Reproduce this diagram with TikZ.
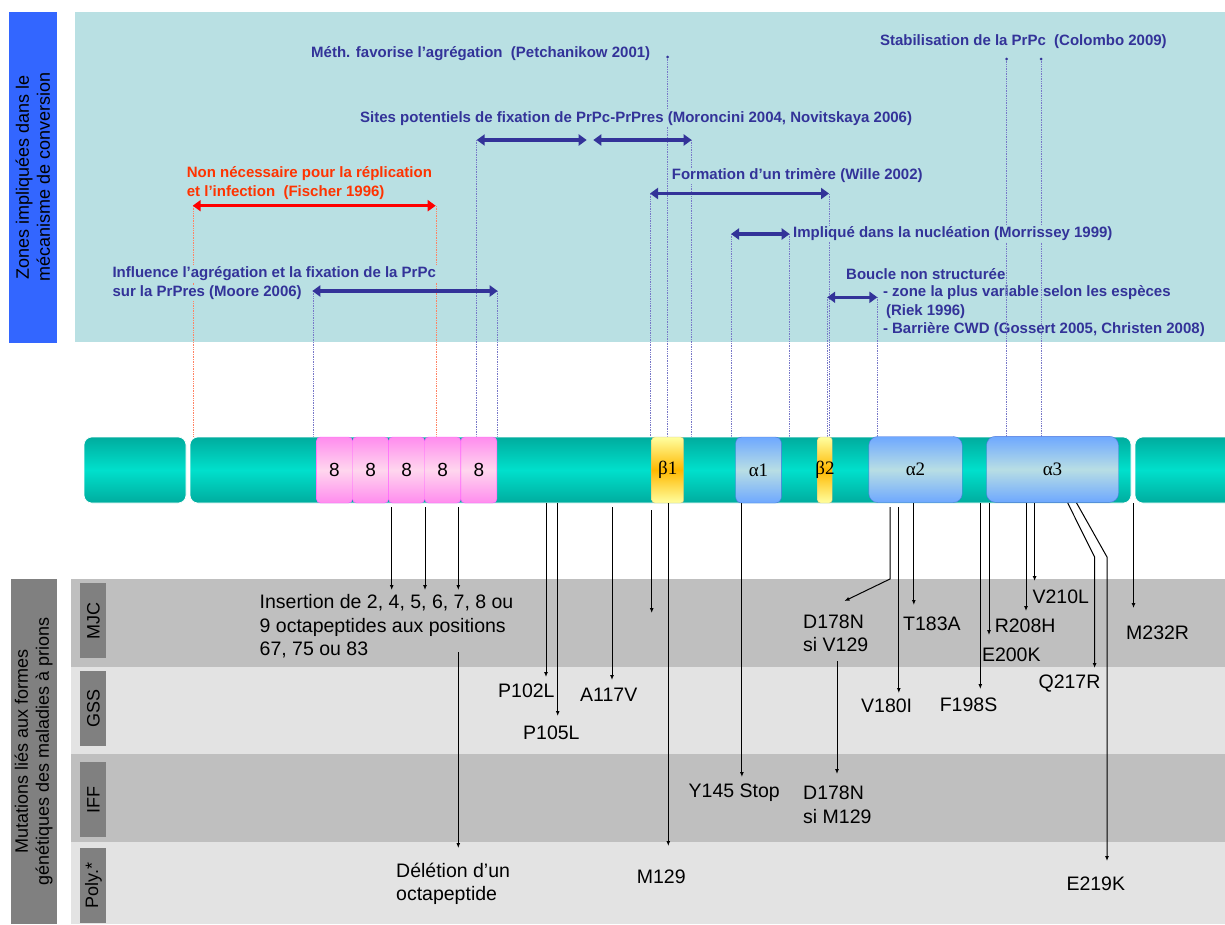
\documentclass[tikz,border=0pt]{standalone}
\usepackage{fontspec}
\setmainfont{Liberation Sans}
\newfontfamily\symfont{Liberation Serif}
\usetikzlibrary{arrows.meta}
\usetikzlibrary{positioning}
\definecolor{zoneblue}{RGB}{51,102,255}
\definecolor{zonecyan}{RGB}{185,224,227}
\definecolor{labblue}{RGB}{51,51,153}
\definecolor{labred}{RGB}{255,51,0}
\definecolor{rowdark}{RGB}{191,191,191}
\definecolor{rowlight}{RGB}{227,227,227}
\definecolor{tagGray}{RGB}{128,128,128}
\definecolor{bardark}{RGB}{0,172,158}
\definecolor{barlight}{RGB}{0,224,204}
\definecolor{octedge}{RGB}{255,90,255}
\definecolor{octdark}{RGB}{255,140,238}
\definecolor{octlight}{RGB}{255,214,238}
\definecolor{betalight}{RGB}{255,255,160}
\definecolor{betadark}{RGB}{255,184,0}
\definecolor{betaedge}{RGB}{200,190,130}
\definecolor{alphadark}{RGB}{110,168,255}
\definecolor{alphalight}{RGB}{184,222,228}
\definecolor{alphaedge}{RGB}{80,120,220}
\definecolor{dotblue}{RGB}{120,120,200}
\definecolor{dotred}{RGB}{255,130,100}
\newcommand\lblfont{\fontsize{15}{18.3}\selectfont\bfseries}
\newcommand\mutfont{\fontsize{19.5}{23.3}\selectfont}
\newcommand\tagfont{\fontsize{18}{20}\selectfont}
\newcommand\sidefont{\fontsize{18}{21}\selectfont}
\newcommand\barfont{\fontsize{19}{21}\selectfont}
\tikzset{
  sidebox/.style = {rotate=90, align=center, font=\sidefont, inner sep=0pt,
                    minimum width=331pt, minimum height=47.7pt},
  tag/.style = {fill=tagGray, rotate=90, font=\tagfont, inner sep=0pt,
                minimum width=75pt, minimum height=26pt},
  blab/.style = {anchor=west, text=labblue, font=\lblfont, inner sep=1pt, fill=zonecyan},
  zline/.style = {densely dotted, line width=0.7pt, dotblue},
  span/.style = {draw=labblue, line width=3.5pt,
                 {Triangle[length=8pt,width=11pt]}-{Triangle[length=8pt,width=11pt]}},
  seg/.style = {rounded corners=8pt, draw=white, line width=0.6pt,
                top color=bardark, bottom color=bardark, middle color=barlight},
  octa/.style = {draw=octedge, rounded corners=4pt, inner sep=0pt, font=\barfont,
                 top color=octdark, bottom color=octdark, middle color=octlight,
                 minimum width=36.1pt, minimum height=66pt},
  beta/.style = {draw=betaedge, rounded corners=3pt, inner sep=0pt, font=\barfont,
                 top color=betalight, bottom color=betalight, middle color=betadark,
                 minimum height=66pt},
  alpha/.style = {draw=alphaedge, rounded corners=9pt, inner sep=0pt, font=\barfont,
                  top color=alphadark, bottom color=alphadark, middle color=alphalight,
                  minimum height=66pt},
  mlab/.style = {anchor=west, font=\mutfont, inner sep=0pt, align=left},
  mut/.style = {-{Latex[length=5pt,width=4pt]}, line width=1pt}
}
\begin{document}
\begin{tikzpicture}[x=1pt,y=-1pt]
  \useasboundingbox (0,0) rectangle (1225,924);
  \clip (0,0) rectangle (1225,924);

  \fill[zonecyan] (75,11.7) rectangle (1225,342.3);
  \node[sidebox, fill=zoneblue] (zones) at (32.9,177.4) {Zones impliquées dans le\\mécanisme de conversion};
  \node[sidebox, fill=tagGray, minimum width=345pt, minimum height=46pt] (mutside) at (33.7,751.5)
    {Mutations liés aux formes\\génétiques des maladies à prions};

  \fill[rowdark] (71,579) rectangle (1225,667);
  \fill[rowlight] (71,667) rectangle (1225,754);
  \fill[rowdark] (71,754) rectangle (1225,842);
  \fill[rowlight] (71,842) rectangle (1225,924);
  \node[tag] (mjc) at (93.4,620.5) {MJC};
  \node[tag] (gss) at (93.4,708.5) {GSS};
  \node[tag] (iff) at (93.4,799.5) {IFF};
  \node[tag] (poly) at (93.4,885.5) {Poly.*};

  \node[anchor=west, text=labblue, font=\lblfont, inner sep=1pt] (boucle) at (845,274.5) {Boucle non structurée};
  \node[anchor=west, text=labblue, font=\lblfont, inner sep=1pt, align=left] (boucleB) at (881.8,311.3)
    {- zone la plus variable selon les espèces\\\hspace*{3pt}(Riek 1996)\\- Barrière CWD (Gossert 2005, Christen 2008)};

  \foreach \x in {193,436}
    \draw[zline, dotred] (\x,206) -- (\x,437);
  \foreach \x/\y in {313/291, 497/291, 476.7/140, 691/140, 667.7/57, 650/194, 829/194,
                     731/234, 789.7/234, 827.5/297, 877/297, 1006.7/59, 1041/59}
    \draw[zline] (\x,\y) -- (\x,437);

  \node[blab] (meth) at (310,53.3) {Méth. favorise l’agrégation\ \ (Petchanikow 2001)};
  \node[blab] (sites) at (359,118.3) {Sites potentiels de fixation de PrPc-PrPres (Moroncini 2004, Novitskaya 2006)};
  \node[blab, text=labred, fill=none, align=left] (nonnec) at (185.7,183.2)
    {Non nécessaire pour la réplication\\et l’infection\ \ (Fischer 1996)};
  \node[blab] (formation) at (670.7,176) {Formation d’un trimère (Wille 2002)};
  \node[blab] (impl) at (792,233.7) {Impliqué dans la nucléation (Morrissey 1999)};
  \node[blab] (stab) at (878.8,41.8) {Stabilisation de la PrPc\ \ (Colombo 2009)};
  \node[blab] (influA) at (111.3,274) {Influence l’agrégation et la fixation de la PrPc};
  \node[blab] (influB) at (111.3,292.7) {sur la PrPres (Moore 2006)};

  \draw[span] (476.7,140) -- (586.7,140);
  \draw[span] (593.3,140) -- (691.7,140);
  \draw[span] (650,193.5) -- (829,193.5);
  \draw[span] (731,234) -- (789.7,234);
  \draw[span] (827.2,297.3) -- (877.4,297.3);
  \draw[span] (312.3,291) -- (497.7,291);
  \draw[span, draw=red] (192.7,205.7) -- (435.7,205.7);
  \foreach \x/\y in {667.7/57, 1006.7/59, 1041/59}
    \fill[labblue] (\x,\y) circle (1.5pt);

  \draw[seg] (84,437) rectangle (186,503);
  \draw[seg] (190,437) rectangle (1131,503);
  \draw[seg] (1135,437) rectangle (1245,503);
  \foreach \i in {1,...,5}
    \node[octa] (oct\i) at ({316.4+36.1*(\i-0.5)},470) {8};
  \node[beta, minimum width=32pt] (b1) at (667.7,470) {\symfont β1};
  \node[alpha, minimum width=45.6pt, rounded corners=6pt] (a1) at (758.5,470) {\symfont α1};
  \draw[beta] (817.5,437) rectangle (832.2,503);
  \node[font=\barfont, inner sep=0pt] (b2) at (825,470) {\symfont β2};
  \node[alpha, minimum width=93.4pt] (a2) at (915.5,469.5) {\symfont α2};
  \node[alpha, minimum width=132pt] (a3) at (1052.5,469.3) {\symfont α3};

  \node[mlab, text depth=0pt] (insertion) at (259.5,625) {\fontsize{19.5}{24.5}\selectfont Insertion de 2, 4, 5, 6, 7, 8 ou\\9 octapeptides aux positions\\67, 75 ou 83};
  \node[mlab] (deletion) at (396,883.5) {Délétion d’un\\octapeptide};
  \node[mlab] (p102) at (498,690.7) {P102L};
  \node[mlab] (p105) at (523,733) {P105L};
  \node[mlab] (a117) at (580,695) {A117V};
  \node[mlab] (m129) at (636.7,876.7) {M129};
  \node[mlab] (y145) at (688.5,792.7) {Y145 Stop};
  \node[mlab] (d178v) at (803,633.3) {D178N\\si V129};
  \node[mlab] (d178m) at (803,804.7) {D178N\\si M129};
  \node[mlab] (t183) at (903,623.3) {T183A};
  \node[mlab] (v180) at (861,706) {V180I};
  \node[mlab] (f198) at (939.6,705) {F198S};
  \node[mlab] (e200) at (981.8,655) {E200K};
  \node[mlab] (r208) at (994.6,626) {R208H};
  \node[mlab] (v210) at (1032.4,596.7) {V210L};
  \node[mlab] (q217) at (1038.4,684) {Q217R};
  \node[mlab] (m232) at (1126,632.3) {M232R};
  \node[mlab] (e219) at (1066.3,883.3) {E219K};

  \foreach \x in {391.7,425,458.3}
    \draw[mut] (\x,507) -- (\x,590);
  \draw[mut] (458.3,652) -- (458.3,848);
  \draw[mut] (546,503) -- (546,677);
  \draw[mut] (557.7,503) -- (557.7,716);
  \draw[mut] (612,507) -- (612,680);
  \draw[mut] (651.7,510) -- (651.7,613);
  \draw[mut] (668.3,503) -- (668.3,846);
  \draw[mut] (741.9,503) -- (741.9,777);
  \draw[mut] (890,507) -- (890,579) -- (844.5,601);
  \draw[mut] (837,661) -- (837,774);
  \draw[mut] (898.8,507) -- (898.8,693);
  \draw[mut] (913.8,503) -- (913.8,605);
  \draw[mut] (980.3,503) -- (980.3,689);
  \draw[mut] (989,503) -- (989,635);
  \draw[mut] (1026,503) -- (1026,611);
  \draw[mut] (1034.6,503) -- (1034.6,581);
  \draw[mut] (1067.7,503) -- (1094.6,557) -- (1094.6,668);
  \draw[mut] (1076.6,503) -- (1107,557) -- (1107,861);
  \draw[mut] (1133.5,503) -- (1133.5,608);
\end{tikzpicture}
\end{document}
